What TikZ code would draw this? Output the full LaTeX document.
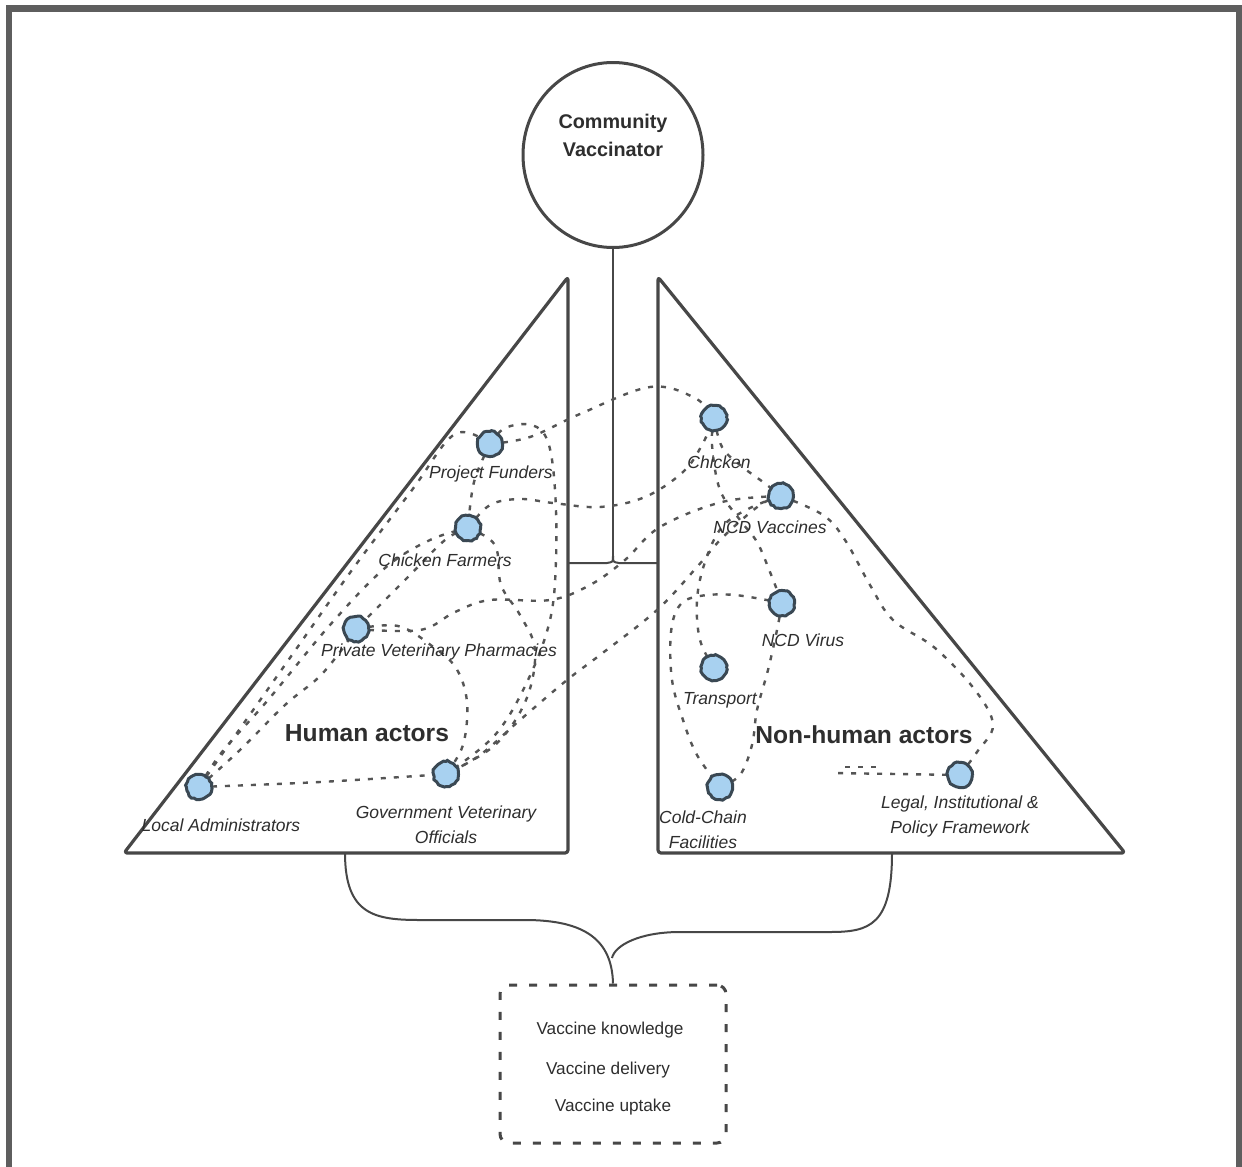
\documentclass[tikz,border=0pt]{standalone}
\usepackage{fontspec}
\setmainfont{Liberation Sans}
\usetikzlibrary{decorations.pathmorphing,shapes.geometric}
\definecolor{framec}{HTML}{5E5E5E}
\definecolor{edgec}{HTML}{474747}
\definecolor{linkc}{HTML}{555555}
\definecolor{blobfill}{HTML}{A8D1F0}
\definecolor{blobline}{HTML}{3A4853}
\definecolor{txt}{HTML}{2E2E2E}
\begin{document}
\begin{tikzpicture}[x=1pt,y=-1pt,
  link/.style={draw=linkc, line width=2.4pt, dash pattern=on 5pt off 8pt},
  blob/.style={circle, minimum size=25pt, inner sep=0pt, fill=blobfill, draw=blobline, line width=3pt,
    decorate, decoration={random steps, segment length=3pt, amplitude=0.7pt}},
  lbl/.style={font=\fontsize{17.5}{25}\selectfont\itshape, text=txt, inner sep=0pt, align=center},
  head/.style={font=\fontsize{24.6}{28}\selectfont\bfseries, text=txt, inner sep=0pt},
  boxtxt/.style={font=\fontsize{17.2}{20}\selectfont, text=txt, inner sep=0pt},
  outline/.style={draw=edgec, line width=3.2pt, rounded corners=3pt, line join=round},
  thinline/.style={draw=edgec, line width=2pt}
]
\useasboundingbox (0,0) rectangle (1242,1167);
\fill[white] (0,0) rectangle (1242,1167);
% frame
\draw[framec, line width=6.5pt] (9,1170) -- (9,8.5) -- (1239,8.5) -- (1239,1170);

% top circle
\node[draw=edgec, line width=3pt, ellipse, minimum width=180pt, minimum height=185pt, inner sep=0pt] (cv) at (613,155) {};
\node[font=\fontsize{19.8}{28}\selectfont\bfseries, text=txt, align=center, inner sep=0pt] (cvt) at (613,135) {Community\\Vaccinator};

% triangles
\draw[outline] (568,277) -- (568,853) -- (124,853) -- cycle;
\draw[outline] (658,277) -- (1125,853) -- (658,853) -- cycle;

% stem and T junction
\coordinate (jt) at (613,556);
\coordinate (lt) at (568,563);
\coordinate (rt) at (658,563);
\draw[thinline] (cv.south) -- (jt);
\draw[thinline] (jt) .. controls (613,562) .. (607,563) -- (lt);
\draw[thinline] (jt) .. controls (613,562) .. (619,563) -- (rt);

% blob positions
\coordinate (pf) at (490,444);
\coordinate (cf) at (468,528);
\coordinate (pvp) at (356,629);
\coordinate (la) at (199,787);
\coordinate (gv) at (446,774);
\coordinate (ch) at (714,418);
\coordinate (ncv) at (781,496);
\coordinate (nvir) at (782,603);
\coordinate (tr) at (714,668);
\coordinate (cc) at (720,787);
\coordinate (lg) at (960,775);
\coordinate (lgend) at (832,773);

% dashed links
\draw[link] plot[smooth, tension=0.6] coordinates {(la) (320,782) (gv)};
\draw[link] plot[smooth, tension=0.6] coordinates {(la) (232,740) (292,655) (352,570) (412,490) (455,434) (pf)};
\draw[link] plot[smooth, tension=0.6] coordinates {(la) (240,750) (285,705) (318,678) (340,652) (pvp)};
\draw[link] plot[smooth, tension=0.6] coordinates {(la) (222,752) (268,700) (330,625) (385,568) (430,540) (cf)};
\draw[link] plot[smooth, tension=0.6] coordinates {(pf) (474,482) (cf)};
\draw[link] plot[smooth, tension=0.6] coordinates {(cf) (445,540) (410,575) (380,605) (pvp)};
\draw[link] plot[smooth, tension=0.6] coordinates {(pf) (505,428) (532,425) (548,442) (555,490) (556,560) (550,620) (528,680) (495,735) (gv)};
\draw[link] plot[smooth, tension=0.6] coordinates {(pf) (530,437) (580,414) (650,387) (695,398) (ch)};
\draw[link] plot[smooth, tension=0.6] coordinates {(cf) (490,505) (520,499) (553,503) (600,507) (645,497) (683,472) (702,445) (ch)};
\draw[link] plot[smooth, tension=0.6] coordinates {(cf) (495,545) (501,585) (520,615) (535,650) (526,700) (495,745) (gv)};
\draw[link] plot[smooth, tension=0.6] coordinates {(pvp) (398,626) (432,646) (456,668) (467,702) (463,745) (gv)};
\draw[link] plot[smooth, tension=0.6] coordinates {(pvp) (420,630) (455,612) (490,600) (550,600) (590,585) (625,560) (660,527) (722,502) (ncv)};
\draw[link] plot[smooth, tension=0.6] coordinates {(ncv) (760,505) (723,537) (697,567) (657,610) (600,655) (567,680) (520,720) (480,755) (gv)};
\draw[link] plot[smooth, tension=0.6] coordinates {(ncv) (823,515) (845,540) (870,585) (893,620) (935,648) (975,690) (993,725) (977,752) (lg)};
\draw[link] (lg) -- (lgend);
\draw[link] (845,767) -- (882,767);
\draw[link] plot[smooth, tension=0.6] coordinates {(ch) (722,447) (740,465) (763,482) (ncv)};
\draw[link] plot[smooth, tension=0.6] coordinates {(ch) (712,445) (720,490) (740,520) (757,542) (770,572) (nvir)};
\draw[link] plot[smooth, tension=0.6] coordinates {(tr) (700,640) (697,600) (705,562) (722,527) (750,508) (ncv)};
\draw[link] plot[smooth, tension=0.6] coordinates {(nvir) (735,595) (700,596) (680,605) (671,632) (672,680) (683,720) (697,755) (cc)};
\draw[link] plot[smooth, tension=0.6] coordinates {(cc) (740,775) (752,745) (757,710) (768,670) (777,630) (nvir)};

% blobs
\foreach \b in {pf,cf,pvp,la,gv,ch,ncv,nvir,tr,cc,lg}{
  \node[blob] (\b b) at (\b) {};
}

% labels
\node[lbl] (pfl) at (491,474) {Project Funders};
\node[lbl] (cfl) at (445,560) {Chicken Farmers};
\node[lbl] (pvpl) at (439,652) {Private Veterinary Pharmacies};
\node[lbl] (lal) at (221,825) {Local Administrators};
\node[lbl] (gvl) at (446,825) {Government Veterinary\\Officials};
\node[lbl] (chl) at (719,462) {Chicken};
\node[lbl] (ncvl) at (770,527) {NCD Vaccines};
\node[lbl] (nvirl) at (803,640) {NCD Virus};
\node[lbl] (trl) at (720,700) {Transport};
\node[lbl] (ccl) at (703,830) {Cold-Chain\\Facilities};
\node[lbl] (lgl) at (960,816) {Legal, Institutional \&\\Policy Framework};

\node[head] (hum) at (367,733) {Human actors};
\node[head] (nonhum) at (864,735) {Non-human actors};

% output box
\node[draw=edgec, line width=3pt, dash pattern=on 8pt off 12pt, rounded corners=9pt,
      minimum width=226pt, minimum height=158pt, inner sep=0pt] (outbox) at (613,1064) {};
\node[boxtxt] (vk) at (610,1030) {Vaccine knowledge};
\node[boxtxt] (vd) at (608,1070) {Vaccine delivery};
\node[boxtxt] (vu) at (613,1107) {Vaccine uptake};

% braces
\coordinate (lbr) at (345,853);
\coordinate (rbr) at (892,853);
\coordinate (join) at (612,958);
\draw[thinline] (lbr) .. controls (345,915) and (375,920) .. (420,920) -- (525,920)
   .. controls (585,920) and (612,940) .. (outbox.north);
\draw[thinline] (rbr) .. controls (892,925) and (870,932) .. (830,932) -- (680,932)
   .. controls (640,932) and (615,945) .. (join);
\end{tikzpicture}
\end{document}
